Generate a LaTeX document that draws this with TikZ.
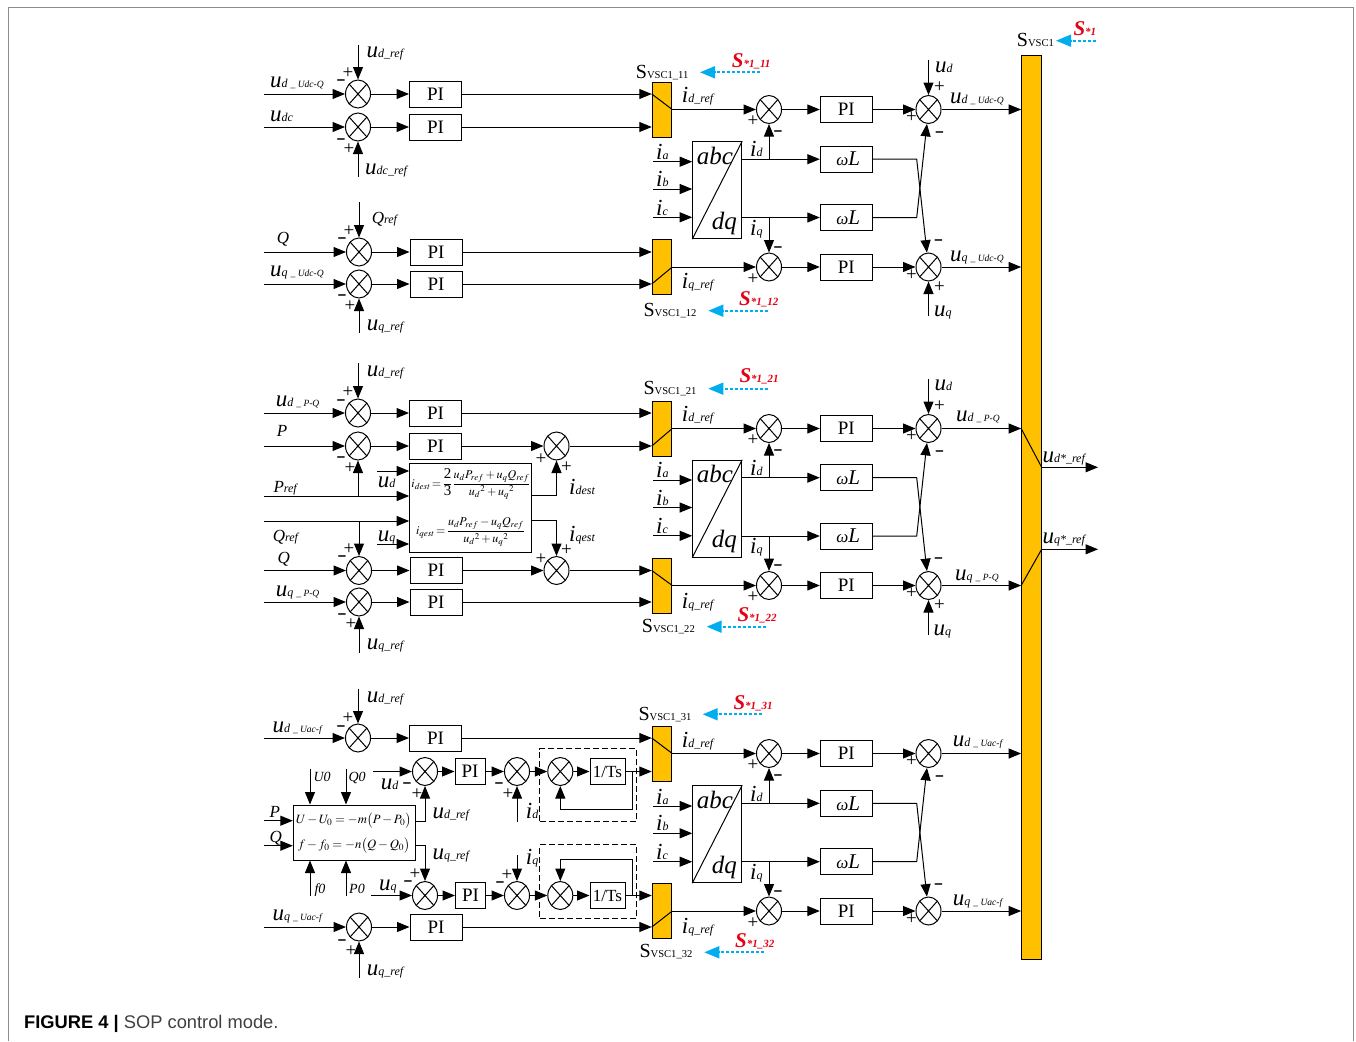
\documentclass[tikz,border=0pt]{standalone}
\usepackage{amsmath}
\usepackage{mathptmx}
\usepackage{fontspec}
\setmainfont{Liberation Serif}
\newfontfamily\capfont{Liberation Sans}
\usetikzlibrary{shapes.geometric, arrows.meta}

\definecolor{swgold}{HTML}{FFC000}
\definecolor{refblue}{HTML}{00AEEF}
\definecolor{refred}{HTML}{E60012}
\definecolor{framegray}{HTML}{8C8C8C}

\newcommand{\sig}[2]{{\fontsize{23}{23}\selectfont\itshape #1}{\fontsize{12}{12}\selectfont\itshape #2}}
\newcommand{\sigp}[2]{{\fontsize{17}{17}\selectfont\itshape #1}{\fontsize{12}{12}\selectfont\itshape #2}}
\newcommand{\tsub}[1]{{\fontsize{9.5}{9.5}\selectfont #1}}
\newcommand{\svsc}[1]{{\fontsize{20}{20}\selectfont S}{\fontsize{10.6}{10.6}\selectfont VSC1#1}}
\newcommand{\srefs}[1]{\textcolor{refred}{\bfseries\itshape{\fontsize{21}{21}\selectfont S}{\fontsize{11}{11}\selectfont *1#1}}}
\newcommand{\wlabel}{\hspace{4pt}{\fontsize{17}{17}\selectfont ω}{\fontsize{21}{21}\selectfont L}}
\newcommand{\bigdigit}[1]{\text{\fontsize{15}{15}\selectfont #1}}

\begin{document}
\begin{tikzpicture}[
    x=1pt, y=-1pt,
    thick/.style={line width=1pt},
    >={Triangle[length=12.5pt,width=10pt]},
    sumj/.style={ellipse, draw, thick, inner sep=0pt, minimum width=25pt, minimum height=28pt,
        path picture={\draw[thick] (path picture bounding box.north west) -- (path picture bounding box.south east)
        (path picture bounding box.south west) -- (path picture bounding box.north east);}},
    signp/.style={inner sep=0pt, font=\fontsize{19}{19}\selectfont},
    signm/.style={inner sep=0pt, font=\capfont\fontsize{15}{15}\selectfont\bfseries},
    sgp/.style 2 args={label={[signp,xshift=#1pt,yshift=#2pt]center:+}},
    sgm/.style 2 args={label={[signm,xshift=#1pt,yshift=#2pt]center:\textendash}},
    pibox/.style={rectangle, draw, thick, inner sep=0pt, minimum width=52pt, minimum height=26pt, font=\fontsize{19}{19}\selectfont},
    pismall/.style={pibox, minimum width=30pt},
    tsbox/.style={pibox, minimum width=35pt, font=\fontsize{17}{17}\selectfont},
    wlbox/.style={pibox, font=\itshape},
    swbox/.style={rectangle, draw, thick, fill=swgold, inner sep=0pt, minimum width=19.5pt, minimum height=55pt},
    abcbox/.style={rectangle, draw, thick, inner sep=0pt, minimum width=49pt, minimum height=97pt},
    lab/.style={anchor=base west, inner sep=0pt},
    eqn/.style={inner sep=0pt, font=\fontsize{12}{14}\selectfont},
    sarrow/.style={->, refblue, line width=1.8pt, dash pattern=on 3pt off 2pt, >={Triangle[length=15pt,width=12pt]}}
]
    \useasboundingbox (0,0) rectangle (1356,1041);
    \draw[framegray] (8,1041) -- (8,7) -- (1353,7) -- (1353,1041);

    % Output bar
    \node[swbox, minimum height=904pt] (bus) at (1031.4,507.8) {};

    % First block, left side
    \node[sumj, sgp={-10}{21}, sgm={-17}{12}] (s11) at (358,94) {};
    \node[sumj, sgm={-17}{-14}, sgp={-9}{-22}] (s12) at (358,127) {};
    \node[sumj, sgp={-10}{21}, sgm={-17}{12}] (s13) at (359,252) {};
    \node[sumj, sgm={-17}{-13}, sgp={-9}{-22}] (s14) at (359,284) {};
    \node[pibox] (p11) at (435.5,94) {PI};
    \node[pibox] (p12) at (435.5,127) {PI};
    \node[pibox] (p13) at (436,252) {PI};
    \node[pibox] (p14) at (436,284) {PI};
    \node[swbox] (sw11) at (662,110) {};
    \node[swbox] (sw12) at (662,266.5) {};

    % First block, right side
    \node[abcbox] (abc1) at (717.2,190.2) {};
    \node[sumj, sgp={-16}{-12}, sgm={9}{-24}] (t11) at (769,109.5) {};
    \node[sumj, sgm={9}{18}, sgp={-16}{-12}] (t12) at (769,267) {};
    \node[pibox] (q11) at (846.3,109.5) {PI};
    \node[pibox] (q12) at (846.3,267) {PI};
    \node[wlbox] (wl11) at (846.3,159.2) {\wlabel};
    \node[wlbox] (wl12) at (846.3,217.5) {\wlabel};
    \node[sumj, sgp={11}{22}, sgp={-17}{-8}, sgm={11}{-25}] (r11) at (928.5,109.5) {};
    \node[sumj, sgm={10}{25}, sgp={-17}{-8}, sgp={11}{-20}] (r12) at (928.5,267) {};

    % Second block, left side
    \node[sumj, sgp={-10}{21}, sgm={-17}{11}] (s21) at (358,413) {};
    \node[sumj, sgm={-17}{-13}, sgp={-8}{-22}] (s22) at (358,446) {};
    \node[sumj, sgp={-10}{21}, sgm={-17}{12}] (s23) at (359,570.5) {};
    \node[sumj, sgm={-17}{-14}, sgp={-8}{-22}] (s24) at (359,602) {};
    \node[pibox] (p21) at (435.5,413) {PI};
    \node[pibox] (p22) at (435.5,446) {PI};
    \node[pibox] (p23) at (436,570.5) {PI};
    \node[pibox] (p24) at (436,602) {PI};
    \node[rectangle, draw, thick, inner sep=0pt, minimum width=122pt, minimum height=88.7pt] (fbox) at (470.7,508.3) {};
    \node[eqn] (feq1) at (471,484) {$i_{dest}\!=\!\dfrac{\bigdigit{2}}{\bigdigit{3}}\dfrac{u_d P_{ref}+u_q Q_{ref}}{{u_d}^2+{u_q}^2}$};
    \node[eqn] (feq2) at (470.5,532) {$i_{qest}\!=\!\dfrac{u_d P_{ref}-u_q Q_{ref}}{{u_d}^2+{u_q}^2}$};
    \node[sumj, sgp={-15.5}{-13}, sgp={10}{-21}] (m21) at (556.5,446) {};
    \node[sumj, sgp={-15.5}{11}, sgp={10}{20}] (m22) at (556.5,570.5) {};
    \node[swbox] (sw21) at (662,428.5) {};
    \node[swbox] (sw22) at (662,585.5) {};

    % Second block, right side
    \node[abcbox] (abc2) at (717.2,508.7) {};
    \node[sumj, sgp={-16}{-12}, sgm={9}{-24}] (t21) at (769,428.5) {};
    \node[sumj, sgm={9}{18}, sgp={-16}{-12}] (t22) at (769,585.5) {};
    \node[pibox] (q21) at (846.3,428.5) {PI};
    \node[pibox] (q22) at (846.3,585.5) {PI};
    \node[wlbox] (wl21) at (846.3,477.7) {\wlabel};
    \node[wlbox] (wl22) at (846.3,536) {\wlabel};
    \node[sumj, sgp={11}{22}, sgp={-17}{-8}, sgm={11}{-25}] (r21) at (928.5,428.5) {};
    \node[sumj, sgm={10}{25}, sgp={-17}{-8}, sgp={11}{-20}] (r22) at (928.5,585.5) {};

    % Third block, left side
    \node[sumj, sgp={-10}{20}, sgm={-17}{10}] (s31) at (358,738) {};
    \node[sumj, sgm={-17}{-15}, sgp={-8}{-24}] (s34) at (359,927) {};
    \node[pibox] (p31) at (435.5,738) {PI};
    \node[pibox] (p34) at (436,927) {PI};
    \node[rectangle, draw, thick, inner sep=0pt, minimum width=122.4pt, minimum height=55pt] (droop) at (354.5,832.5) {};
    \node[eqn, font=\fontsize{12.7}{15}\selectfont] (deq1) at (353.5,820.5) {$U-U_0=-m\bigl(P-P_0\bigr)$};
    \node[eqn, font=\fontsize{12.7}{15}\selectfont] (deq2) at (354,845.5) {$f-f_0=-n\bigl(Q-Q_0\bigr)$};
    \node[sumj, sgm={-18}{-13.5}, sgp={-8}{-23}] (d1) at (425,771.5) {};
    \node[pismall] (pa1) at (470,771.5) {PI};
    \node[sumj, sgm={-18}{-14}, sgp={-9}{-23}] (e1) at (517,771.5) {};
    \node[sumj] (f1) at (560.3,771.5) {};
    \node[tsbox] (ts1) at (607.5,771.5) {1/Ts};
    \node[draw, thick, dash pattern=on 6pt off 3pt, inner sep=0pt, minimum width=96.7pt, minimum height=73pt] (dbox1) at (588.3,785.2) {};
    \node[sumj, sgp={-10}{21}, sgm={-17}{12}] (d2) at (425,895.5) {};
    \node[pismall] (pa2) at (470.5,895.5) {PI};
    \node[sumj, sgp={-10}{20}, sgm={-17}{11}] (e2) at (517,895.5) {};
    \node[sumj] (f2) at (560.3,895.5) {};
    \node[tsbox] (ts2) at (607.5,895.5) {1/Ts};
    \node[draw, thick, dash pattern=on 6pt off 3pt, inner sep=0pt, minimum width=96.7pt, minimum height=73.7pt] (dbox2) at (588.3,881.8) {};
    \node[swbox] (sw31) at (662,754.2) {};
    \node[swbox] (sw32) at (662,911) {};

    % Third block, right side
    \node[abcbox] (abc3) at (717.2,834.2) {};
    \node[sumj, sgp={-16}{-12}, sgm={9}{-24}] (t31) at (769,753.5) {};
    \node[sumj, sgm={9}{18}, sgp={-16}{-12}] (t32) at (769,911) {};
    \node[pibox] (q31) at (846.3,753.5) {PI};
    \node[pibox] (q32) at (846.3,911) {PI};
    \node[wlbox] (wl31) at (846.3,803.3) {\wlabel};
    \node[wlbox] (wl32) at (846.3,861.7) {\wlabel};
    \node[sumj, sgp={-17}{-8}, sgm={11}{-25}] (r31) at (928.5,753.5) {};
    \node[sumj, sgm={10}{25}, sgp={-17}{-8}] (r32) at (928.5,911) {};

    % Free ends
    \coordinate (i11) at (264,94);
    \coordinate (i12) at (264,127);
    \coordinate (i13) at (264,252);
    \coordinate (i14) at (264,284);
    \coordinate (v11) at (358,45);
    \coordinate (v12) at (358,177);
    \coordinate (v13) at (359,202);
    \coordinate (v14) at (359,333);
    \coordinate (ia1) at (653.3,161.7);
    \coordinate (ib1) at (653.3,189);
    \coordinate (ic1) at (653.3,217.3);
    \coordinate (k11) at (916.7,159.2);
    \coordinate (k12) at (916.7,217.5);
    \coordinate (ud1) at (928.5,60);
    \coordinate (uq1) at (928.5,316);
    \coordinate (b0t) at (1056,40.7);
    \coordinate (b0s) at (1096,40.7);
    \coordinate (b11t) at (700,72.3);
    \coordinate (b11s) at (760,72.3);
    \coordinate (b12t) at (708.3,310.7);
    \coordinate (b12s) at (768.3,310.7);

    \coordinate (i21) at (264,413);
    \coordinate (i22) at (264,446);
    \coordinate (i23) at (264,570.5);
    \coordinate (i24) at (264,602);
    \coordinate (v21) at (358,363);
    \coordinate (v24) at (359,652.7);
    \coordinate (iud) at (377.3,471);
    \coordinate (ipr) at (264,496);
    \coordinate (iqr) at (264,521);
    \coordinate (iuq) at (377.3,544);
    \coordinate (opr) at (556.5,495.5);
    \coordinate (oqr) at (556.5,520.7);
    \coordinate (ia2) at (653.3,480);
    \coordinate (ib2) at (653.3,507.5);
    \coordinate (ic2) at (653.3,535.8);
    \coordinate (k21) at (916.7,477.7);
    \coordinate (k22) at (916.7,536);
    \coordinate (ud2) at (928.5,379);
    \coordinate (uq2) at (928.5,635);
    \coordinate (o1) at (1098,467.3);
    \coordinate (o2) at (1098,549.3);
    \coordinate (b21t) at (708.3,388.7);
    \coordinate (b21s) at (767.7,388.7);
    \coordinate (b22t) at (706.7,626.7);
    \coordinate (b22s) at (765.7,626.7);

    \coordinate (i31) at (264,738);
    \coordinate (i34) at (264,927);
    \coordinate (v31) at (358,689);
    \coordinate (v34) at (359,977.7);
    \coordinate (iu0) at (310,769);
    \coordinate (iq0) at (346,769);
    \coordinate (if0) at (310,896);
    \coordinate (ip0) at (346,896);
    \coordinate (ipd) at (264,820.7);
    \coordinate (iqd) at (264,845.7);
    \coordinate (od1) at (425,821.7);
    \coordinate (od2) at (425,845);
    \coordinate (iuda) at (373.3,771.5);
    \coordinate (iuqa) at (371,895.5);
    \coordinate (vid) at (517,822.3);
    \coordinate (viq) at (517,855);
    \coordinate (j1) at (632.3,771.5);
    \coordinate (j1b) at (632.3,809);
    \coordinate (j2) at (632.3,895.5);
    \coordinate (j2b) at (632.3,859.3);
    \coordinate (ia3) at (653.3,806);
    \coordinate (ib3) at (653.3,833.3);
    \coordinate (ic3) at (653.3,861.7);
    \coordinate (k31) at (916.7,803.3);
    \coordinate (k32) at (916.7,861.7);
    \coordinate (b31t) at (702.7,714.3);
    \coordinate (b31s) at (762.3,714.3);
    \coordinate (b32t) at (704.3,952.3);
    \coordinate (b32s) at (764,952.3);

    % Arrows, first block
    \draw[->, thick] (i11) -- (s11);
    \draw[->, thick] (i12) -- (s12);
    \draw[->, thick] (i13) -- (s13);
    \draw[->, thick] (i14) -- (s14);
    \draw[->, thick] (v11) -- (s11);
    \draw[->, thick] (v12) -- (s12);
    \draw[->, thick] (v13) -- (s13);
    \draw[->, thick] (v14) -- (s14);
    \draw[->, thick] (s11) -- (p11);
    \draw[->, thick] (s12) -- (p12);
    \draw[->, thick] (s13) -- (p13);
    \draw[->, thick] (s14) -- (p14);
    \draw[->, thick] (p11) -- (p11 -| sw11.west);
    \draw[->, thick] (p12) -- (p12 -| sw11.west);
    \draw[->, thick] (p13) -- (p13 -| sw12.west);
    \draw[->, thick] (p14) -- (p14 -| sw12.west);
    \draw[thick] (p11 -| sw11.west) -- (t11 -| sw11.east);
    \draw[thick] (p14 -| sw12.west) -- (t12 -| sw12.east);
    \draw[->, thick] (t11 -| sw11.east) -- (t11);
    \draw[->, thick] (t12 -| sw12.east) -- (t12);
    \draw[->, thick] (t11) -- (q11);
    \draw[->, thick] (t12) -- (q12);
    \draw[->, thick] (q11) -- (r11);
    \draw[->, thick] (q12) -- (r12);
    \draw[->, thick] (ia1) -- (ia1 -| abc1.west);
    \draw[->, thick] (ib1) -- (ib1 -| abc1.west);
    \draw[->, thick] (ic1) -- (ic1 -| abc1.west);
    \draw[thick] (abc1.south west) -- (abc1.north east);
    \draw[->, thick] (wl11 -| abc1.east) -- (wl11);
    \draw[->, thick] (wl12 -| abc1.east) -- (wl12);
    \draw[->, thick] (wl11 -| t11) -- (t11);
    \draw[->, thick] (wl12 -| t12) -- (t12);
    \draw[->, thick] (wl11) -- (k11) -- (r12);
    \draw[->, thick] (wl12) -- (k12) -- (r11);
    \draw[->, thick] (ud1) -- (r11);
    \draw[->, thick] (uq1) -- (r12);
    \draw[->, thick] (r11) -- (r11 -| bus.west);
    \draw[->, thick] (r12) -- (r12 -| bus.west);
    \draw[sarrow] (b0s) -- (b0t);
    \draw[sarrow] (b11s) -- (b11t);
    \draw[sarrow] (b12s) -- (b12t);

    % Arrows, second block
    \draw[->, thick] (i21) -- (s21);
    \draw[->, thick] (i22) -- (s22);
    \draw[->, thick] (i23) -- (s23);
    \draw[->, thick] (i24) -- (s24);
    \draw[->, thick] (v21) -- (s21);
    \draw[->, thick] (v24) -- (s24);
    \draw[->, thick] (ipr -| s22) -- (s22);
    \draw[->, thick] (iqr -| s23) -- (s23);
    \draw[->, thick] (s21) -- (p21);
    \draw[->, thick] (s22) -- (p22);
    \draw[->, thick] (s23) -- (p23);
    \draw[->, thick] (s24) -- (p24);
    \draw[->, thick] (iud) -- (iud -| fbox.west);
    \draw[->, thick] (ipr) -- (ipr -| fbox.west);
    \draw[->, thick] (iqr) -- (iqr -| fbox.west);
    \draw[->, thick] (iuq) -- (iuq -| fbox.west);
    \draw[->, thick] (opr -| fbox.east) -- (opr) -- (m21);
    \draw[->, thick] (oqr -| fbox.east) -- (oqr) -- (m22);
    \draw[->, thick] (p22) -- (m21);
    \draw[->, thick] (p23) -- (m22);
    \draw[->, thick] (p21) -- (p21 -| sw21.west);
    \draw[->, thick] (m21) -- (m21 -| sw21.west);
    \draw[->, thick] (m22) -- (m22 -| sw22.west);
    \draw[->, thick] (p24) -- (p24 -| sw22.west);
    \draw[thick] (m21 -| sw21.west) -- (t21 -| sw21.east);
    \draw[thick] (m22 -| sw22.west) -- (t22 -| sw22.east);
    \draw[->, thick] (t21 -| sw21.east) -- (t21);
    \draw[->, thick] (t22 -| sw22.east) -- (t22);
    \draw[->, thick] (t21) -- (q21);
    \draw[->, thick] (t22) -- (q22);
    \draw[->, thick] (q21) -- (r21);
    \draw[->, thick] (q22) -- (r22);
    \draw[->, thick] (ia2) -- (ia2 -| abc2.west);
    \draw[->, thick] (ib2) -- (ib2 -| abc2.west);
    \draw[->, thick] (ic2) -- (ic2 -| abc2.west);
    \draw[thick] (abc2.south west) -- (abc2.north east);
    \draw[->, thick] (wl21 -| abc2.east) -- (wl21);
    \draw[->, thick] (wl22 -| abc2.east) -- (wl22);
    \draw[->, thick] (wl21 -| t21) -- (t21);
    \draw[->, thick] (wl22 -| t22) -- (t22);
    \draw[->, thick] (wl21) -- (k21) -- (r22);
    \draw[->, thick] (wl22) -- (k22) -- (r21);
    \draw[->, thick] (ud2) -- (r21);
    \draw[->, thick] (uq2) -- (r22);
    \draw[->, thick] (r21) -- (r21 -| bus.west);
    \draw[->, thick] (r22) -- (r22 -| bus.west);
    \draw[thick] (r21 -| bus.west) -- (o1 -| bus.east);
    \draw[thick] (r22 -| bus.west) -- (o2 -| bus.east);
    \draw[->, thick] (o1 -| bus.east) -- (o1);
    \draw[->, thick] (o2 -| bus.east) -- (o2);
    \draw[sarrow] (b21s) -- (b21t);
    \draw[sarrow] (b22s) -- (b22t);

    % Arrows, third block
    \draw[->, thick] (i31) -- (s31);
    \draw[->, thick] (i34) -- (s34);
    \draw[->, thick] (v31) -- (s31);
    \draw[->, thick] (v34) -- (s34);
    \draw[->, thick] (s31) -- (p31);
    \draw[->, thick] (s34) -- (p34);
    \draw[->, thick] (p31) -- (p31 -| sw31.west);
    \draw[->, thick] (p34) -- (p34 -| sw32.west);
    \draw[->, thick] (iu0) -- (iu0 |- droop.north);
    \draw[->, thick] (iq0) -- (iq0 |- droop.north);
    \draw[->, thick] (if0) -- (if0 |- droop.south);
    \draw[->, thick] (ip0) -- (ip0 |- droop.south);
    \draw[->, thick] (ipd) -- (ipd -| droop.west);
    \draw[->, thick] (iqd) -- (iqd -| droop.west);
    \draw[->, thick] (od1 -| droop.east) -- (od1) -- (d1);
    \draw[->, thick] (od2 -| droop.east) -- (od2) -- (d2);
    \draw[->, thick] (iuda) -- (d1);
    \draw[->, thick] (d1) -- (pa1);
    \draw[->, thick] (pa1) -- (e1);
    \draw[->, thick] (e1) -- (f1);
    \draw[->, thick] (f1) -- (ts1);
    \draw[->, thick] (ts1) -- (ts1 -| sw31.west);
    \draw[->, thick] (vid) -- (e1);
    \draw[->, thick] (j1) -- (j1b) -- (j1b -| f1) -- (f1);
    \draw[->, thick] (iuqa) -- (d2);
    \draw[->, thick] (d2) -- (pa2);
    \draw[->, thick] (pa2) -- (e2);
    \draw[->, thick] (e2) -- (f2);
    \draw[->, thick] (f2) -- (ts2);
    \draw[->, thick] (ts2) -- (ts2 -| sw32.west);
    \draw[->, thick] (viq) -- (e2);
    \draw[->, thick] (j2) -- (j2b) -- (j2b -| f2) -- (f2);
    \draw[thick] (p31 -| sw31.west) -- (t31 -| sw31.east);
    \draw[thick] (p34 -| sw32.west) -- (t32 -| sw32.east);
    \draw[->, thick] (t31 -| sw31.east) -- (t31);
    \draw[->, thick] (t32 -| sw32.east) -- (t32);
    \draw[->, thick] (t31) -- (q31);
    \draw[->, thick] (t32) -- (q32);
    \draw[->, thick] (q31) -- (r31);
    \draw[->, thick] (q32) -- (r32);
    \draw[->, thick] (ia3) -- (ia3 -| abc3.west);
    \draw[->, thick] (ib3) -- (ib3 -| abc3.west);
    \draw[->, thick] (ic3) -- (ic3 -| abc3.west);
    \draw[thick] (abc3.south west) -- (abc3.north east);
    \draw[->, thick] (wl31 -| abc3.east) -- (wl31);
    \draw[->, thick] (wl32 -| abc3.east) -- (wl32);
    \draw[->, thick] (wl31 -| t31) -- (t31);
    \draw[->, thick] (wl32 -| t32) -- (t32);
    \draw[->, thick] (wl31) -- (k31) -- (r32);
    \draw[->, thick] (wl32) -- (k32) -- (r31);
    \draw[->, thick] (r31) -- (r31 -| bus.west);
    \draw[->, thick] (r32) -- (r32 -| bus.west);
    \draw[sarrow] (b31s) -- (b31t);
    \draw[sarrow] (b32s) -- (b32t);

    % Labels, first block
    \node[lab] (l101) at (366.5,57.5) {\sig{u}{d\_ref}};
    \node[lab] (l102) at (270,87.7) {\sig{u}{d \tsub{\_ Udc-Q}}};
    \node[lab] (l103) at (270,121) {\sig{u}{dc}};
    \node[lab] (l104) at (365,174.3) {\sig{u}{dc\_ref}};
    \node[lab] (l105) at (371.7,223) {\sigp{Q}{ref}};
    \node[lab] (l106) at (276.7,243.3) {\sigp{Q}{}};
    \node[lab] (l107) at (270,276.7) {\sig{u}{q \tsub{\_ Udc-Q}}};
    \node[lab] (l108) at (366.7,330) {\sig{u}{q\_ref}};
    \node[lab] (l109) at (1016.7,46.7) {\svsc{}};
    \node[lab] (l110) at (1073.3,36) {\srefs{}};
    \node[lab] (l111) at (635.7,78.3) {\svsc{\_11}};
    \node[lab] (l112) at (731.7,67.3) {\srefs{\_11}};
    \node[lab] (l113) at (681.7,102.7) {\sig{i}{d\_ref}};
    \node[lab] (l114) at (935,72.3) {\sig{u}{d}};
    \node[lab] (l115) at (950,103.3) {\sig{u}{d \tsub{\_ Udc-Q}}};
    \node[lab] (l116) at (750,156.7) {\sig{i}{d}};
    \node[lab] (l117) at (656,159) {\sig{i}{a}};
    \node[lab] (l118) at (656,186) {\sig{i}{b}};
    \node[lab] (l119) at (656,215) {\sig{i}{c}};
    \node[lab] (l120) at (750,235) {\sig{i}{q}};
    \node[lab] (l121) at (681.7,288.3) {\sig{i}{q\_ref}};
    \node[lab] (l122) at (643.3,316.7) {\svsc{\_12}};
    \node[lab] (l123) at (739,305) {\srefs{\_12}};
    \node[lab] (l124) at (934,316.7) {\sig{u}{q}};
    \node[lab] (l125) at (950,261.7) {\sig{u}{q \tsub{\_ Udc-Q}}};
    \node[lab, font=\fontsize{25}{25}\selectfont\itshape] (l126) at (696.7,164.3) {abc};
    \node[lab, font=\fontsize{25}{25}\selectfont\itshape] (l127) at (711.7,229) {dq};

    % Labels, second block
    \node[lab] (l201) at (366.7,376.7) {\sig{u}{d\_ref}};
    \node[lab] (l202) at (275.7,406.7) {\sig{u}{d \tsub{\_ P-Q}}};
    \node[lab] (l203) at (276.7,436.7) {\sigp{P}{}};
    \node[lab] (l204) at (273.3,492.3) {\sigp{P}{ref}};
    \node[lab] (l205) at (377.7,487.3) {\sig{u}{d}};
    \node[lab] (l206) at (272.7,541.7) {\sigp{Q}{ref}};
    \node[lab] (l207) at (377.7,541.7) {\sig{u}{q}};
    \node[lab] (l208) at (277.3,563.3) {\sigp{Q}{}};
    \node[lab] (l209) at (275.7,596) {\sig{u}{q \tsub{\_ P-Q}}};
    \node[lab] (l210) at (366.7,649.3) {\sig{u}{q\_ref}};
    \node[lab] (l211) at (569,494) {\sig{i}{dest}};
    \node[lab] (l212) at (569,541.7) {\sig{i}{qest}};
    \node[lab] (l213) at (643.3,394.3) {\svsc{\_21}};
    \node[lab] (l214) at (739.3,382.7) {\srefs{\_21}};
    \node[lab] (l215) at (681.7,421) {\sig{i}{d\_ref}};
    \node[lab] (l216) at (934.3,390.7) {\sig{u}{d}};
    \node[lab] (l217) at (956,421.7) {\sig{u}{d \tsub{\_ P-Q}}};
    \node[lab] (l218) at (1042.3,462.7) {\sig{u}{d*\_ref}};
    \node[lab] (l219) at (1042.3,543.3) {\sig{u}{q*\_ref}};
    \node[lab] (l220) at (750,475.7) {\sig{i}{d}};
    \node[lab] (l221) at (656,477.7) {\sig{i}{a}};
    \node[lab] (l222) at (656,505) {\sig{i}{b}};
    \node[lab] (l223) at (656,533) {\sig{i}{c}};
    \node[lab] (l224) at (750,553.5) {\sig{i}{q}};
    \node[lab] (l225) at (681.7,608.3) {\sig{i}{q\_ref}};
    \node[lab] (l226) at (641.7,632.7) {\svsc{\_22}};
    \node[lab] (l227) at (737.3,621) {\srefs{\_22}};
    \node[lab] (l228) at (955,580.7) {\sig{u}{q \tsub{\_ P-Q}}};
    \node[lab] (l229) at (933.3,635) {\sig{u}{q}};
    \node[lab, font=\fontsize{25}{25}\selectfont\itshape] (l230) at (696.7,482.8) {abc};
    \node[lab, font=\fontsize{25}{25}\selectfont\itshape] (l231) at (711.7,547.5) {dq};

    % Labels, third block
    \node[lab] (l301) at (366.7,702.3) {\sig{u}{d\_ref}};
    \node[lab] (l302) at (272.3,732.3) {\sig{u}{d \tsub{\_ Uac-f}}};
    \node[lab, font=\fontsize{14}{14}\selectfont\itshape] (l303) at (313.3,781.7) {U0};
    \node[lab, font=\fontsize{14}{14}\selectfont\itshape] (l304) at (348.3,781.7) {Q0};
    \node[lab] (l305) at (380.7,789) {\sig{u}{d}};
    \node[lab] (l306) at (269.3,817.7) {\sigp{P}{}};
    \node[lab] (l307) at (269.3,842.3) {\sigp{Q}{}};
    \node[lab] (l308) at (432.3,818.3) {\sig{u}{d\_ref}};
    \node[lab] (l309) at (432.3,859) {\sig{u}{q\_ref}};
    \node[lab] (l310) at (525.7,818.3) {\sig{i}{d}};
    \node[lab] (l311) at (525.7,864) {\sig{i}{q}};
    \node[lab, font=\fontsize{14}{14}\selectfont\itshape] (l312) at (314.3,893.3) {f0};
    \node[lab, font=\fontsize{14}{14}\selectfont\itshape] (l313) at (349,893.3) {P0};
    \node[lab] (l314) at (379,890.7) {\sig{u}{q}};
    \node[lab] (l315) at (272.3,920.7) {\sig{u}{q \tsub{\_ Uac-f}}};
    \node[lab] (l316) at (366.7,975) {\sig{u}{q\_ref}};
    \node[lab] (l317) at (638.3,720.7) {\svsc{\_31}};
    \node[lab] (l318) at (733.3,709) {\srefs{\_31}};
    \node[lab] (l319) at (681.7,747.3) {\sig{i}{d\_ref}};
    \node[lab] (l320) at (952.7,746.7) {\sig{u}{d \tsub{\_ Uac-f}}};
    \node[lab] (l321) at (750,801.7) {\sig{i}{d}};
    \node[lab] (l322) at (656,804) {\sig{i}{a}};
    \node[lab] (l323) at (656,830.7) {\sig{i}{b}};
    \node[lab] (l324) at (656,859.3) {\sig{i}{c}};
    \node[lab] (l325) at (750,879) {\sig{i}{q}};
    \node[lab] (l326) at (681.7,933.3) {\sig{i}{q\_ref}};
    \node[lab] (l327) at (639.3,957.7) {\svsc{\_32}};
    \node[lab] (l328) at (735,947.3) {\srefs{\_32}};
    \node[lab] (l329) at (952.7,905.7) {\sig{u}{q \tsub{\_ Uac-f}}};
    \node[lab, font=\fontsize{25}{25}\selectfont\itshape] (l330) at (696.7,808.3) {abc};
    \node[lab, font=\fontsize{25}{25}\selectfont\itshape] (l331) at (711.7,873) {dq};

    % Caption
    \node[lab, font=\capfont\fontsize{18.3}{18.3}\selectfont] (caption) at (24,1028.5) {\textbf{FIGURE 4 |} \textcolor{black!75}{SOP control mode.}};
\end{tikzpicture}
\end{document}
